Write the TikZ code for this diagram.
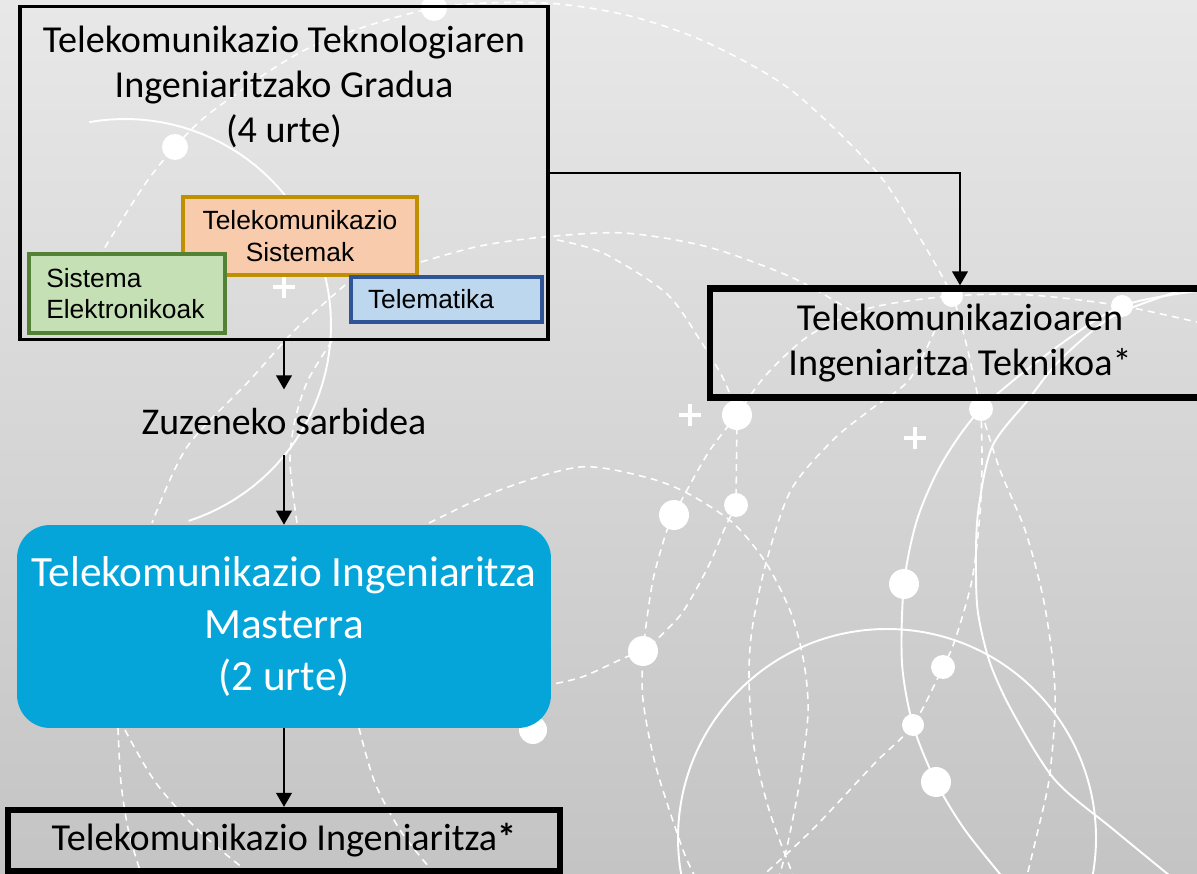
\documentclass[tikz,border=0pt]{standalone}
\usepackage{fontspec}
\setmainfont{Carlito}
\newfontfamily\arialfont{Liberation Sans}
\usetikzlibrary{arrows.meta}

\definecolor{bgtop}{RGB}{232,232,232}
\definecolor{bgbot}{RGB}{196,196,196}
\definecolor{peachfill}{HTML}{F8CBAD}
\definecolor{peachline}{HTML}{BF9000}
\definecolor{greenfill}{HTML}{C5E0B4}
\definecolor{greenline}{HTML}{548235}
\definecolor{bluefill}{HTML}{BDD7EE}
\definecolor{blueline}{HTML}{2F5597}
\definecolor{masterblue}{RGB}{5,165,217}

\tikzset{
    bgdash/.style={white, line width=0.9pt, dash pattern=on 4pt off 3pt},
    bgline/.style={white, line width=1.1pt},
    bgplus/.style={white, line width=2.8pt},
    gradobox/.style={draw, line width=2pt, minimum width=10.57cm, minimum height=6.66cm},
    areabox/.style={draw, line width=2.2pt, inner sep=0pt, font=\arialfont\fontsize{15pt}{18pt}\selectfont},
    titlebox/.style={draw, line width=3.6pt, align=center, font=\fontsize{21.7pt}{25.6pt}\selectfont},
    flow/.style={line width=0.9pt, -{Triangle[length=8pt,width=9pt]}}
}

\begin{document}
\begin{tikzpicture}[x=0.02cm, y=-0.02cm]
                \useasboundingbox (0,0) rectangle (1197,874);
                \clip (0,0) rectangle (1197,874);
                \shade[top color=bgtop, bottom color=bgbot] (0,0) rectangle (1197,874);

                % background pattern
                \draw[bgline, domain=-72:100, samples=60] plot ({125+206*cos(\x)}, {325-206*sin(\x)});
                \draw[bgline] (887,838) circle[radius=209];
                \draw[bgline] plot[smooth] coordinates {(1205,290) (1122,306) (1050,352) (981,409) (942,463) (917,520) (904,584) (902,663) (913,725) (936,782) (965,830) (1005,880)};
                \draw[bgline] plot[smooth] coordinates {(1205,284) (1167,295) (1110,318) (1060,360) (1028,400) (992,447) (978,513) (976,567) (978,613) (990,663) (1013,713) (1055,780) (1114,830) (1175,880)};
                \draw[bgdash] plot[smooth] coordinates {(80,290) (96,262) (143,187) (175,147) (214,110) (311,47) (434,8) (544,3) (630,16) (708,43) (791,90) (875,170) (917,233) (952,296) (967,347) (981,409) (1000,470) (1025,530) (1043,597) (1053,663) (1055,713) (1049,780) (1038,830) (1026,880)};
                \draw[bgdash] plot[smooth] coordinates {(421,262) (480,246) (544,237) (624,233) (708,247) (791,277) (850,310)};
                \draw[bgdash] plot[smooth] coordinates {(557,240) (603,253) (666,293) (700,340) (724,380) (737,415)};
                \draw[bgdash] plot[smooth] coordinates {(737,415) (766,375) (810,335) (870,308) (952,296) (1030,295) (1122,306) (1205,324)};
                \draw[bgdash] plot[smooth] coordinates {(935,330) (909,380) (870,410) (833,440) (791,490) (766,563) (752,630) (749,680) (754,747) (770,813) (795,880)};
                \draw[bgdash] plot[smooth] coordinates {(429,523) (500,490) (580,467) (645,477) (687,493) (733,523) (766,563) (791,613) (804,663) (808,713) (800,780) (787,847) (778,880)};
                \draw[bgdash] (737,415) -- (736,505);
                \draw[bgdash] plot[smooth] coordinates {(737,415) (710,450) (687,490) (674,515)};
                \draw[bgdash] plot[smooth] coordinates {(674,515) (666,533) (653,580) (645,633) (643,651) (643,700) (656,767) (683,850) (697,880)};
                \draw[bgdash] plot[smooth] coordinates {(736,505) (724,530) (708,567) (682,613) (653,643)};
                \draw[bgdash] plot[smooth] coordinates {(643,651) (624,658) (582,677) (548,685)};
                \draw[bgdash] plot[smooth] coordinates {(981,409) (982,460) (980,513) (972,580) (955,640) (943,667) (913,725) (875,763) (812,830) (758,880)};
                \draw[bgdash] plot[smooth] coordinates {(345,285) (295,330) (250,380) (187,447) (152,523)};
                \draw[bgdash] plot[smooth] coordinates {(332,341) (308,380) (295,420) (290,463) (297,523)};
                \draw[bgdash] plot[smooth] coordinates {(118,728) (121,783) (129,833) (143,880)};
                \draw[bgdash] plot[smooth] coordinates {(125,730) (156,783) (201,833) (258,880)};
                \draw[bgdash] plot[smooth] coordinates {(359,728) (375,783) (402,833) (440,880)};
                \foreach \px/\py/\r in {434/8/13, 175/147/13, 737/415/15, 674/515/15, 736/505/12, 643/651/15, 533/730/14,
                        904/584/15, 981/409/12, 943/667/12, 913/725/11, 936/782/15, 952/296/11, 1122/306/11}
                    \fill[white] (\px,\py) circle[radius=\r];
                \foreach \px/\py in {690/415, 915/438, 284/287}
                    \draw[bgplus] (\px-11,\py) -- (\px+11,\py) (\px,\py-11) -- (\px,\py+11);

                % boxes
                \node[gradobox] (grado) at (284,173) {};
                \node[align=center, font=\fontsize{21.7pt}{25.8pt}\selectfont] (gradotxt) at (284,87)
                    {Telekomunikazio Teknologiaren\\Ingeniaritzako Gradua\\(4 urte)};
                \node[areabox, fill=peachfill, draw=peachline, minimum width=4.69cm, minimum height=1.56cm, align=center] (sistemak) at (300,236)
                    {Telekomunikazio\\Sistemak};
                \node[areabox, fill=greenfill, draw=greenline, text width=3.23cm, inner xsep=0.34cm, minimum height=1.58cm, align=left] (elektronika) at (127,293.5)
                    {Sistema\\Elektronikoak};
                \node[areabox, fill=bluefill, draw=blueline, text width=3.14cm, inner xsep=0.34cm, minimum height=0.9cm, align=left] (telematika) at (446.5,299.5)
                    {Telematika};
                \node[titlebox, minimum width=10cm, minimum height=2.18cm] (teknikoa) at (960,343)
                    {Telekomunikazioaren\\Ingeniaritza Teknikoa*};
                \node[inner xsep=0pt, inner ysep=0.38cm, font=\fontsize{21.5pt}{25.6pt}\selectfont] (zuzeneko) at (284,422) {Zuzeneko sarbidea};
                \node[fill=masterblue, rounded corners=0.66cm, minimum width=10.68cm, minimum height=4.06cm, text=white, align=center,
                        font=\fontsize{24.6pt}{29.4pt}\selectfont] (masterra) at (284,626.5)
                    {Telekomunikazio Ingeniaritza\\Masterra\\(2 urte)};
                \node[titlebox, minimum width=11.04cm, minimum height=1.22cm] (ingeniaria) at (284,840.5)
                    {Telekomunikazio Ingeniaritza\textbf{*}};

                % arrows
                \draw[flow] (grado.east) -| (teknikoa.north);
                \draw[flow] (grado.south) -- (zuzeneko.north);
                \draw[flow] (zuzeneko.south) -- (masterra.north);
                \draw[flow] (masterra.south) -- (ingeniaria.north);
\end{tikzpicture}
\end{document}
